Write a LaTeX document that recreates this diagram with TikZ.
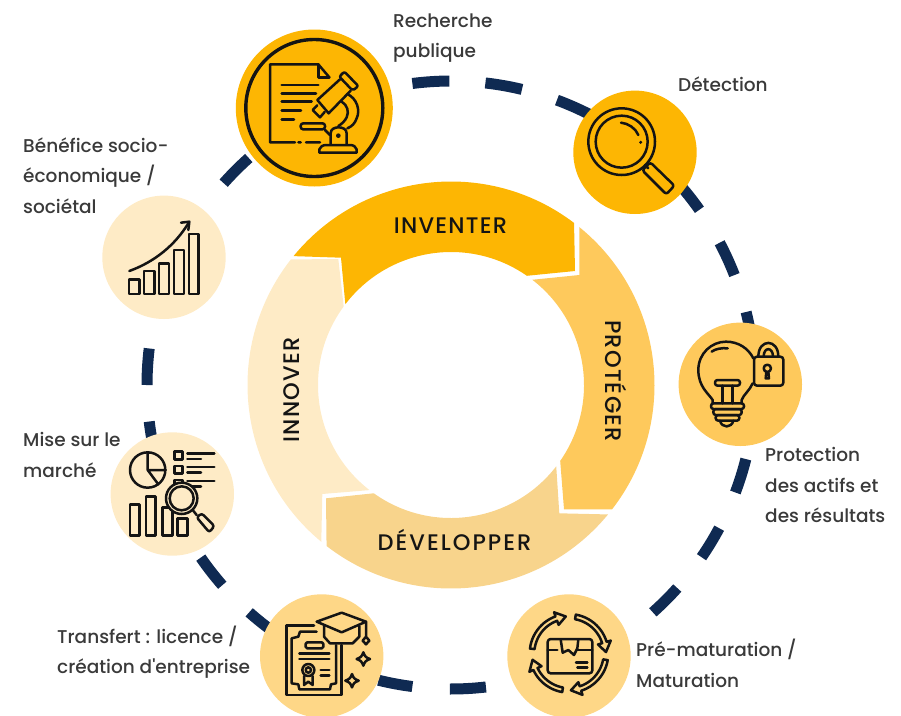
\documentclass[tikz,border=0pt]{standalone}
\usepackage{fontspec}
\setmainfont{Poppins}
\newfontfamily\capfont{Poppins Medium}
\newfontfamily\ringfont[LetterSpace=5.5]{Poppins Medium}
\newfontfamily\ringwide[LetterSpace=9]{Poppins Medium}
\definecolor{cA}{HTML}{FDB603}
\definecolor{cB}{HTML}{FEC95C}
\definecolor{cC}{HTML}{F8D48C}
\definecolor{cD}{HTML}{FEEBC6}
\definecolor{cE}{HTML}{FED787}
\definecolor{navy}{HTML}{0F2A52}
\definecolor{ink}{HTML}{141414}
\definecolor{txt}{HTML}{3A3A3A}
\tikzset{
  dashseg/.style={draw=navy,line width=11pt,line cap=butt},
  disc/.style={circle,inner sep=0pt,minimum size=#1,fill},
  icon/.style={draw=ink,line width=2.5pt,line join=round,line cap=round},
  ringlab/.style={inner sep=0pt,text=ink,font=\ringfont\fontsize{22.5}{26}\selectfont,anchor=base},
  caption/.style={inner sep=0pt,text=txt,anchor=base west,font=\capfont\fontsize{18.5}{30.5}\selectfont},
  zoomed/.style={x=0.33333pt,y=-0.33333pt},
}
\newcommand{\seg}[2]{\draw[dashseg] ([shift={(O)}]#1:304pt) arc[start angle=#1,end angle=#2,radius=304pt];}
\newcommand{\lab}[4]{\node[caption] (#1) at (#2,#3) {\begin{tabular}[t]{@{}l@{}}#4\end{tabular}};}
\newcommand{\bandarrow}[2]{\draw[icon] plot[domain=#1:#2,samples=14] (\x:118) -- (#2:131) -- (#2+15:111) -- (#2:91) -- plot[domain=#2:#1,samples=14] (\x:104) -- cycle;}
\newcommand{\sparkle}[2]{\draw[icon] (#1-20,#2) .. controls (#1-7,#2-5) and (#1-5,#2-7) .. (#1,#2-20) .. controls (#1+5,#2-7) and (#1+7,#2-5) .. (#1+20,#2) .. controls (#1+7,#2+5) and (#1+5,#2+7) .. (#1,#2+20) .. controls (#1-5,#2+7) and (#1-7,#2+5) .. cycle;}
\begin{document}
\begin{tikzpicture}[x=1pt,y=-1pt]
\useasboundingbox (0,0) rectangle (901,715);
\coordinate (O) at (451,385);
% dashed orbit
\seg{97.3}{90.3}\seg{83.5}{76.5}\seg{69.6}{60}\seg{40.5}{35.2}\seg{27.9}{21.2}\seg{13.9}{8}
\seg{-14.1}{-20.7}\seg{-28.1}{-34.5}\seg{-41.9}{-48.4}\seg{-83.4}{-90.2}\seg{-97.3}{-103.8}
\seg{-125}{-131.6}\seg{-138.8}{-145.4}\seg{-167}{-173.1}\seg{-180}{-186.9}\seg{138.4}{131.7}
% ring
\fill[cB] ([shift={(O)}]50.9:203.5pt) arc[start angle=50.9,end angle=-37.7,radius=203.5pt] -- (564,509.3) -- ([shift={(O)}]-34.8:133pt) arc[start angle=-34.8,end angle=52.3,radius=133pt] -- (579.3,275) -- cycle;
\fill[cC] ([shift={(O)}]-39.5:203.5pt) arc[start angle=-39.5,end angle=-127.7,radius=203.5pt] -- (326,498.3) -- ([shift={(O)}]-125.5:133pt) arc[start angle=-125.5,end angle=-37.7,radius=133pt] -- (559.3,513.3) -- cycle;
\fill[cD] ([shift={(O)}]230.4:203.5pt) arc[start angle=230.4,end angle=141.9,radius=203.5pt] -- (338.3,259) -- ([shift={(O)}]143.8:133pt) arc[start angle=143.8,end angle=232.2,radius=133pt] -- (322.3,494) -- cycle;
\fill[cA] ([shift={(O)}]140.7:203.5pt) arc[start angle=140.7,end angle=52.8,radius=203.5pt] -- (575,271) -- ([shift={(O)}]55.2:133pt) arc[start angle=55.2,end angle=142.6,radius=133pt] -- (341,257.7) -- cycle;
\node[ringlab] (inv) at (450.5,233) {INVENTER};
\node[ringlab,rotate=-90] (pro) at (605,381) {PROTÉGER};
\node[ringlab,font=\ringwide\fontsize{22.5}{26}\selectfont] (dev) at (454.5,550) {DÉVELOPPER};
\node[ringlab,rotate=90] (inn) at (299,390) {INNOVER};
% discs
\node[disc=157pt,cA] (d1) at (314.3,108) {};
\node[disc=123.4pt,cA] (d2) at (635,152.3) {};
\node[disc=123.4pt,cB] (d3) at (740.3,384.3) {};
\node[disc=123.4pt,cE] (d4) at (569,656) {};
\node[disc=123.4pt,cE] (d5) at (321.7,656) {};
\node[disc=123.4pt,cD] (d6) at (172.3,494) {};
\node[disc=123.4pt,cD] (d7) at (164,257.3) {};
% captions
\lab{t1}{393}{27}{Recherche\\publique}
\lab{t2}{678}{91}{Détection}
\lab{t3}{765}{461.7}{Protection\\des actifs et\\des résultats}
\lab{t4}{636}{656.7}{Pré-maturation /\\Maturation}
\lab{t5}{57}{643}{Transfert : licence /\\création d'entreprise}
\lab{t6}{23}{446.7}{Mise sur le\\marché}
\lab{t7}{23}{152}{Bénéfice socio-\\économique /\\sociétal}
% icon 1: document and microscope
\draw[icon,line width=3.4pt] (d1.center) circle[radius=68.5pt];
\begin{scope}[shift={(230,20)},zoomed]
\draw[icon] (298,172) -- (265,133) -- (120,133) -- (120,367) -- (195,367) (205,367) -- (212,367) (228,367) -- (270,367);
\draw[icon] (265,133) -- (265,172) -- (298,172);
\draw[icon] (155,195) -- (265,195) (155,220) -- (258,220) (155,245) -- (245,245) (155,272) -- (213,272) (155,298) -- (192,298);
\draw[icon,rounded corners=2pt] (343,155) -- (385,198) -- (368,212) -- (328,170) -- cycle;
\draw[icon] (330,178) -- (262,240) -- (296,280) -- (362,212);
\draw[icon] (262,256) -- (248,270) -- (270,292) -- (284,276);
\draw[icon] (352,222) .. controls (380,235) and (392,270) .. (380,295) .. controls (375,310) and (365,320) .. (352,325);
\draw[icon] (335,245) .. controls (352,255) and (358,275) .. (350,292) .. controls (345,303) and (335,312) .. (325,318);
\draw[icon,rounded corners=2.5pt] (212,310) -- (285,310) -- (285,328) -- (212,328) -- cycle;
\draw[icon] (285,330) -- (300,345);
\draw[icon] (302,372) -- (302,340) .. controls (302,327) and (315,322) .. (325,322) .. controls (337,322) and (350,327) .. (350,340) -- (350,372);
\fill[ink] (325,347) circle[radius=7];
\draw[icon] (268,398) -- (380,398) -- (380,388) .. controls (378,380) and (370,375) .. (360,375) -- (290,375) .. controls (278,375) and (270,380) .. (268,388) -- cycle;
\end{scope}
% icon 2: magnifier
\begin{scope}[shift={(565,85)},zoomed]
\draw[icon] (170,170) circle[radius=100];
\draw[icon] (170,170) circle[radius=78];
\draw[icon] (168,113) .. controls (190,115) and (212,130) .. (220,150);
\fill[ink] (227,172) circle[radius=5];
\draw[icon] (240,240) -- (250,250);
\draw[icon,rounded corners=2.5pt] (232,256) -- (256,232) -- (328,302) -- (304,328) -- cycle;
\end{scope}
% icon 3: bulb and padlock
\begin{scope}[shift={(565,85)},zoomed]
\draw[icon] (443,955) -- (443,945) .. controls (430,925) and (400,905) .. (400,855) .. controls (400,805) and (440,770) .. (483,770) .. controls (520,770) and (550,790) .. (565,820);
\draw[icon] (563,895) .. controls (555,915) and (535,930) .. (530,945) -- (530,955);
\draw[icon] (440,800) .. controls (450,792) and (470,788) .. (488,790);
\draw[icon,rounded corners=2.5pt] (450,885) -- (525,885) -- (525,902) -- (450,902) -- cycle;
\draw[icon] (473,902) -- (473,955) (502,902) -- (502,955);
\draw[icon,rounded corners=2.5pt] (438,955) -- (537,955) -- (537,972) -- (438,972) -- cycle;
\draw[icon,rounded corners=2.5pt] (445,972) -- (530,972) -- (530,990) -- (445,990) -- cycle;
\draw[icon,rounded corners=2.5pt] (452,990) -- (523,990) -- (523,1007) -- (452,1007) -- cycle;
\draw[icon] (465,1007) .. controls (470,1030) and (500,1030) .. (505,1007);
\draw[icon,rounded corners=3pt] (567,815) -- (655,815) -- (655,902) -- (567,902) -- cycle;
\draw[icon] (580,815) .. controls (580,760) and (640,760) .. (640,815);
\draw[icon] (596,815) .. controls (596,785) and (624,785) .. (624,815);
\draw[icon] (607,850) circle[radius=11];
\draw[icon] (604,861) -- (602,880) -- (612,880) -- (610,861);
\end{scope}
% icon 4: rising bars
\begin{scope}[shift={(95,190)},zoomed]
\draw[icon] (102,268) rectangle (133,312) (147,243) rectangle (178,312) (192,220) rectangle (222,312) (237,180) rectangle (267,312) (282,132) rectangle (311,312);
\draw[icon] (103,243) .. controls (180,215) and (240,165) .. (280,100);
\draw[icon] (258,98) -- (283,95) -- (280,120);
\end{scope}
% icon 5: charts and magnifier
\begin{scope}[shift={(0,420)},zoomed]
\draw[icon] (443,150) circle[radius=53];
\draw[icon] (443,97) -- (443,150) -- (497,150) (443,150) -- (475,193);
\draw[icon] (523,95) rectangle (547,118) (523,138) rectangle (547,160) (523,180) rectangle (547,200);
\draw[icon] (562,100) -- (643,100) (562,117) -- (603,117) (562,141) -- (643,141) (562,157) -- (603,157) (562,183) -- (643,183) (575,199) -- (603,199);
\draw[icon] (390,254) rectangle (419,347) (438,230) rectangle (467,347) (487,262) rectangle (517,347) (533,295) rectangle (563,347);
\draw[icon,fill=cD] (545,235) circle[radius=47];
\draw[icon,fill=cD] (545,235) circle[radius=36];
\draw[icon] (578,270) -- (590,285);
\draw[icon,rounded corners=2.5pt,fill=cD] (590,292) -- (605,280) -- (643,318) -- (628,337) -- cycle;
\end{scope}
% icon 6: diploma and cap
\begin{scope}[shift={(250,590)},zoomed]
\draw[icon] (192,107) -- (110,107) -- (110,315) -- (275,315) -- (275,165);
\draw[icon] (200,125) -- (150,125) -- (145,140) -- (125,145) -- (125,280) -- (145,283) -- (148,298) -- (240,298) -- (243,283) -- (258,280) -- (258,165);
\draw[icon,rounded corners=1.5pt] (167,157) rectangle (220,175);
\draw[icon] (148,190) -- (238,190) (148,207) -- (238,207);
\draw[icon] (175,240) circle[radius=18];
\draw[icon] (175,240) circle[radius=8];
\draw[icon] (162,258) -- (162,285) -- (175,275) -- (188,285) -- (188,258);
\draw[icon] (212,240) -- (238,240) (212,256) -- (238,256);
\draw[icon] (200,95) -- (275,68) -- (348,95) -- (275,127) -- cycle;
\draw[icon] (222,108) -- (222,140) -- (240,160) -- (308,160) -- (328,140) -- (328,108);
\draw[icon] (348,95) -- (348,140) -- (358,152) -- (348,163) -- (338,152) -- (348,140);
\sparkle{340}{207}
\sparkle{306}{272}
\end{scope}
% icon 7: box and cycle arrows
\begin{scope}[shift={(500,590)},zoomed]
\draw[icon,rounded corners=3pt] (143,147) rectangle (277,250);
\draw[icon] (143,180) -- (172,180) (232,180) -- (277,180);
\draw[icon] (182,148) -- (188,188) -- (205,180) -- (222,195) -- (232,175) -- (235,148);
\draw[icon] (228,218) -- (262,218) (232,232) -- (262,232);
\begin{scope}[shift={(207,190)}]
\bandarrow{10}{72}
\bandarrow{100}{155}
\bandarrow{187}{250}
\bandarrow{280}{343}
\end{scope}
\end{scope}
\end{tikzpicture}
\end{document}
